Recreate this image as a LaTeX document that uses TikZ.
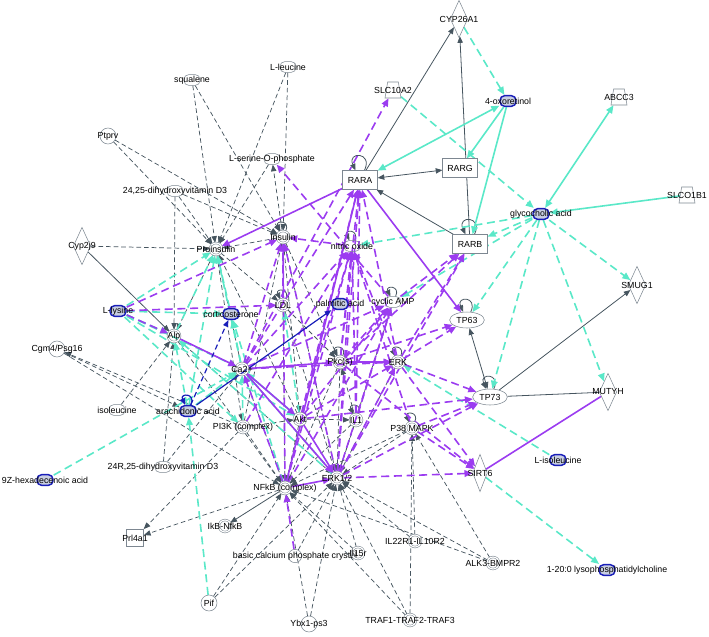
\documentclass[tikz,border=0pt]{standalone}
\usepackage{fontspec}
\setmainfont{Liberation Sans}
\usetikzlibrary{arrows.meta,shapes.geometric,backgrounds}

\definecolor{edgegray}{RGB}{70,85,95}
\definecolor{nodegray}{RGB}{125,135,145}
\definecolor{purp}{RGB}{155,60,240}
\definecolor{turq}{RGB}{90,232,200}
\definecolor{chemblue}{RGB}{25,30,185}
\definecolor{chemfill}{RGB}{200,206,226}

\begin{document}
\begin{tikzpicture}[x=0.75pt, y=-0.75pt, lb/.style={label={[txt]center:#1}}]
      \tikzstyle{txt} = [font=\fontsize{6.6}{8}\selectfont, inner sep=0pt]
      \tikzstyle{gene} = [circle, draw=nodegray, minimum size=12pt, inner sep=0pt]
      \tikzstyle{cplx} = [circle, draw=nodegray, line width=0.4pt, double=white, double distance=0.9pt, minimum size=9pt, inner sep=0pt]
      \tikzstyle{chem} = [rectangle, rounded corners=3.5pt, draw=nodegray, minimum width=12pt, minimum height=8pt, inner sep=0pt]
      \tikzstyle{hichem} = [chem, draw=chemblue, fill=chemfill, line width=1.1pt]
      \tikzstyle{recep} = [rectangle, draw=nodegray, fill=white, minimum width=26pt, minimum height=14pt, inner sep=0pt]
      \tikzstyle{enzyme} = [diamond, draw=nodegray, minimum width=13pt, minimum height=28pt, inner sep=0pt]
      \tikzstyle{transp} = [trapezium, trapezium angle=76, trapezium stretches=true, draw=nodegray, minimum width=12pt, minimum height=12pt, inner sep=1pt]
      \tikzstyle{tfac} = [ellipse, draw=nodegray, minimum width=26pt, minimum height=12pt, inner sep=0pt]
      \tikzstyle{tip} = [-{Triangle[length=5pt,width=4pt]}]
      \tikzstyle{bigtip} = [-{Triangle[length=6pt,width=5pt]}]
      \tikzstyle{gda} = [draw=edgegray, line width=0.55pt, dash pattern=on 3.5pt off 2.2pt, tip]
      \tikzstyle{gsa} = [draw=edgegray, line width=0.6pt, tip]
      \tikzstyle{gsb} = [draw=edgegray, line width=0.6pt, {Triangle[length=5pt,width=4pt]}-{Triangle[length=5pt,width=4pt]}]
      \tikzstyle{gsl} = [draw=edgegray, line width=0.6pt]
      \tikzstyle{pda} = [draw=purp, line width=1.2pt, dash pattern=on 6pt off 3.5pt, bigtip]
      \tikzstyle{psa} = [draw=purp, line width=1.2pt, bigtip]
      \tikzstyle{psl} = [draw=purp, line width=1.2pt]
      \tikzstyle{tda} = [draw=turq, line width=1.2pt, dash pattern=on 6pt off 3.5pt, bigtip]
      \tikzstyle{tsa} = [draw=turq, line width=1.2pt, bigtip]
      \tikzstyle{tsb} = [draw=turq, line width=1.2pt, {Triangle[length=6pt,width=5pt]}-{Triangle[length=6pt,width=5pt]}]
      \tikzstyle{bda} = [draw=chemblue, line width=0.9pt, dash pattern=on 4pt off 2.5pt, tip]
      \tikzstyle{bsa} = [draw=chemblue, line width=0.9pt, tip]

      \useasboundingbox (0,0) rectangle (709,636);

      % outer ring
      \node[chem, lb=squalene] (squal) at (192,80) {};
      \node[chem, lb=L-leucine] (leuc) at (288,67) {};
      \node[gene, lb=Ptprv] (ptprv) at (108,136) {};
      \node[chem, lb=L-serine-O-phosphate] (lser) at (272,159) {};
      \node[chem, lb={24,25-dihydroxyvitamin D3}] (vitd) at (175,191) {};
      \node[enzyme, lb=Cyp2j9] (cyp2j9) at (82,246) {};
      \node[hichem, lb=L-lysine] (lys) at (118,311) {};
      \node[gene, lb=Cgm4/Psg16] (cgm4) at (57,349) {};
      \node[chem, lb=isoleucine] (isoleu) at (117,410) {};
      \node[chem, lb={24R,25-dihydroxyvitamin D3}] (vitd2) at (163,467) {};
      \node[hichem, lb=9Z-hexadecenoic acid] (hexa) at (45,480) {};
      \node[rectangle, draw=nodegray, minimum size=13pt, inner sep=0pt, lb=Prl4a1] (prl4a1) at (135,538) {};
      \node[gene, lb=Pif] (pif) at (209,603) {};
      \node[cplx, lb=IkB-NfkB] (ikb) at (225,526) {};
      \node[gene, minimum size=10pt, lb=basic calcium phosphate crystal] (bcp) at (295,556) {};
      \node[cplx, lb=Il15r] (il15r) at (358,553) {};
      \node[gene, lb=Ybx1-ps3] (ybx) at (309,624) {};
      \node[cplx, lb=TRAF1-TRAF2-TRAF3] (traf) at (410,620) {};
      \node[cplx, lb=IL22R1-IL10R2] (il22) at (415,541) {};
      \node[cplx, lb=ALK3-BMPR2] (alk3) at (493,563) {};

      % retinoid side
      \node[recep, lb=RARA] (rara) at (360,180) {};
      \node[recep, lb=RARG] (rarg) at (460,168) {};
      \node[recep, lb=RARB] (rarb) at (470,244) {};
      \node[transp, lb=SLC10A2] (slc10a2) at (393,90) {};
      \node[enzyme, lb=CYP26A1] (cyp26a1) at (459,19) {};
      \node[hichem, lb=4-oxoretinol] (oxoret) at (508,101) {};
      \node[transp, lb=ABCC3] (abcc3) at (619,97) {};
      \node[transp, lb=SLCO1B1] (slco1b1) at (687,195) {};
      \node[hichem, lb=glycocholic acid] (glyco) at (541,214) {};
      \node[enzyme, lb=SMUG1] (smug1) at (637,285) {};
      \node[tfac, lb=TP63] (tp63) at (467,320) {};
      \node[tfac, lb=TP73] (tp73) at (490,397) {};
      \node[enzyme, lb=MUTYH] (mutyh) at (608,392) {};
      \node[enzyme, minimum width=11pt, lb=SIRT6] (sirt6) at (480,473) {};
      \node[hichem, lb=L-isoleucine] (lisoleu) at (558,460) {};
      \node[hichem, lb=1-20:0 lysophosphatidylcholine] (lpc) at (607,570) {};

      % hubs
      \node[cplx, lb=Proinsulin] (proins) at (216,249) {};
      \node[cplx, lb=Insulin] (insulin) at (283,237) {};
      \node[chem, lb=nitric oxide] (nitric) at (352,246) {};
      \node[hichem, lb=corticosterone] (cort) at (231,314) {};
      \node[cplx, lb=LDL] (ldl) at (283,305) {};
      \node[hichem, lb=palmitic acid] (palm) at (340,304) {};
      \node[chem, lb=cyclic AMP] (camp) at (393,302) {};
      \node[cplx, lb=Alp] (alp) at (174,336) {};
      \node[cplx, lb=Ca2+] (ca) at (242,369) {};
      \node[cplx, lb=Pkc(s)] (pkc) at (340,362) {};
      \node[cplx, lb=ERK] (erk) at (398,362) {};
      \node[hichem, lb=arachidonic acid] (arach) at (188,411) {};
      \node[cplx, lb=PI3K (complex)] (pi3k) at (243,427) {};
      \node[cplx, lb=Akt] (akt) at (300,419) {};
      \node[cplx, lb=IL1] (il1) at (356,420) {};
      \node[cplx, lb=P38 MAPK] (p38) at (412,428) {};
      \node[cplx, lb=NFkB (complex)] (nfkb) at (285,488) {};
      \node[cplx, lb=ERK1/2] (erk12) at (337,478) {};

      \begin{pgfonlayer}{background}
      \foreach \a/\b in {squal/proins, squal/insulin, leuc/proins, leuc/insulin, ptprv/proins, ptprv/insulin,
          lser/proins, insulin/lser, vitd/proins, vitd/insulin, vitd/alp, cyp2j9/proins, isoleu/alp,
          vitd2/alp, vitd2/ca, pi3k/cgm4, cgm4/arach, cgm4/nfkb, pi3k/prl4a1, nfkb/prl4a1,
          pif/nfkb, pif/erk12, ybx/nfkb, ybx/erk12, il15r/nfkb, il15r/erk12, il22/p38, il22/erk12,
          traf/p38, traf/erk12, traf/nfkb, alk3/p38, alk3/erk12, alk3/nfkb, bcp/erk12,
          proins/alp, insulin/proins, ldl/insulin, proins/ldl, ca/proins, akt/proins, pi3k/insulin,
          insulin/akt, ldl/pkc, insulin/erk12, ldl/erk12, ldl/nfkb, pkc/erk12, pkc/nfkb, akt/nfkb,
          il1/nfkb, il1/erk12, p38/nfkb, p38/erk12, pi3k/nfkb, pi3k/akt, ca/nfkb, alp/ca, alp/erk12,
          erk/erk12, camp/erk12, il1/pkc, akt/il1, insulin/pkc, alp/nfkb, proins/pi3k}
        \draw[gda] (\a) -- (\b);
      \foreach \a/\b in {cyp2j9/alp, nfkb/ikb, rara/cyp26a1, rarb/cyp26a1, rarb/rara, tp73/smug1}
        \draw[gsa] (\a) -- (\b);
      \draw[gsb] (rara) -- (rarg);
      \draw[gsb] (tp63) -- (tp73);
      \draw[gsl] (tp73) -- (mutyh);
      \foreach \n in {rara, rarb, tp63, tp73, nitric, camp, insulin, ldl, pkc, erk, il1, p38}
        \draw[gsa] (\n) to[loop, out=65, in=115, min distance=9pt, looseness=6] (\n);

      \foreach \a/\b in {lys/proins, lys/alp, lys/ca, lys/cort, lys/akt, glyco/nitric, glyco/rarb,
          glyco/tp63, glyco/tp73, glyco/smug1, glyco/mutyh, glyco/camp, slc10a2/glyco,
          cyp26a1/oxoret, sirt6/lpc, hexa/ca, pif/arach, lisoleu/erk, arach/proins, cort/proins,
          alp/proins, arach/alp, nfkb/cort, erk12/ca, akt/ldl, pi3k/ca, lys/pi3k, erk12/alp,
          ca/cort, arach/ca, ca/proins}
        \draw[tda] (\a) -- (\b);
      \foreach \a/\b in {oxoret/rarg, oxoret/rarb, slco1b1/glyco, akt/ca}
        \draw[tsa] (\a) -- (\b);
      \draw[tsb] (oxoret) -- (rara);
      \draw[tsb] (abcc3) -- (glyco);

      \foreach \a/\b in {ca/nitric, ca/camp, ca/rara, ca/slc10a2, pkc/nitric, pkc/camp, pkc/rara,
          pkc/rarb, pkc/tp63, erk/nitric, erk/rara, erk/rarb, erk/tp63, erk/tp73, erk12/nitric,
          erk12/camp, erk12/rara, erk12/sirt6, erk12/tp73, erk12/erk, p38/tp73, p38/sirt6,
          p38/nitric, akt/nitric, akt/camp, akt/erk, akt/rara, il1/nitric, il1/camp, il1/rara,
          nfkb/nitric, nfkb/insulin, bcp/nfkb, lys/alp, lys/ldl, camp/lser, pkc/sirt6, ldl/insulin,
          ca/insulin, erk12/insulin, nfkb/ca, pi3k/nitric, erk/sirt6, camp/rarb, nitric/insulin,
          akt/tp73, ca/erk, erk12/rarb, nfkb/camp, lys/insulin}
        \draw[pda] (\a) -- (\b);
      \foreach \a/\b in {rara/proins, alp/ca, ca/akt, ca/erk12, akt/erk12, nfkb/erk12, pkc/erk,
          ca/pkc, rara/tp63, nfkb/rara}
        \draw[psa] (\a) -- (\b);
      \draw[psl] (mutyh) -- (sirt6);

      \draw[bsa] (arach) -- (palm);
      \draw[bda] (arach) -- (cort);
      \draw[bsa] (arach) to[loop, out=65, in=115, min distance=9pt, looseness=6] (arach);
      \end{pgfonlayer}
   \end{tikzpicture}
\end{document}
